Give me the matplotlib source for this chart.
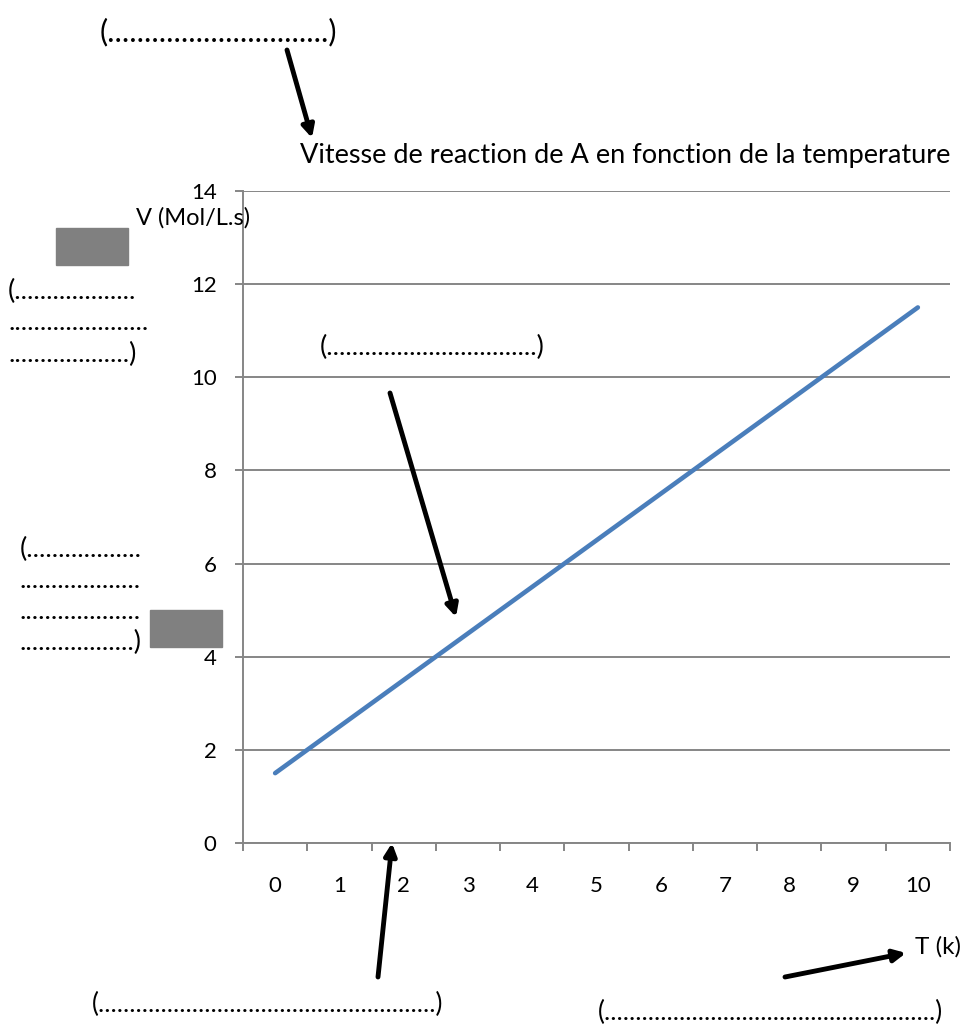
import matplotlib.pyplot as plt
import matplotlib.patches as mpatches

plt.rcParams['font.family'] = ['Lato', 'DejaVu Sans']

# donnees
temperature = [0, 1, 2, 3, 4, 5, 6, 7, 8, 9, 10]
vitesse = [1.5, 2.5, 3.5, 4.5, 5.5, 6.5, 7.5, 8.5, 9.5, 10.5, 11.5]
y_ticks = [0, 2, 4, 6, 8, 10, 12, 14]

titre = "Vitesse de reaction de A en fonction de la temperature"
label_y = "V (Mol/L.s)"
label_x = "T (k)"

W, H = 970, 1025
fig = plt.figure(figsize=(W / 100, H / 100), dpi=100)


def px(x, y):
    return (x / W, 1 - y / H)


ax = fig.add_axes([243 / W, 1 - 843 / H, (950 - 243) / W, (843 - 191) / H])

ax.plot(temperature, vitesse, color='#4a7ebb', lw=3.3, solid_capstyle='round', zorder=3)

ax.set_xlim(-0.5, 10.5)
ax.set_ylim(0, 14)
ax.set_yticks(y_ticks)
ax.set_xticks(temperature)
ax.set_xticklabels([str(t) for t in temperature])
ax.set_xticks([t - 0.5 for t in temperature] + [10.5], minor=True)

grid_c = '#868686'
ax.grid(axis='y', color=grid_c, lw=1.4)
ax.set_axisbelow(True)
for s in ['top', 'right']:
    ax.spines[s].set_visible(False)
for s in ['left', 'bottom']:
    ax.spines[s].set_color(grid_c)
    ax.spines[s].set_linewidth(1.4)

ax.tick_params(axis='x', which='major', length=0, pad=24, labelsize=16)
ax.tick_params(axis='x', which='minor', length=6, width=1.4, color=grid_c)
ax.tick_params(axis='y', length=6, width=1.4, color=grid_c, pad=13, labelsize=16)

# textes
fig.text(*px(300, 155), titre, fontsize=19.5, va='center', ha='left')
fig.text(*px(136, 218), label_y, fontsize=17, va='center', ha='left')
fig.text(*px(915, 947), label_x, fontsize=17.5, va='center', ha='left')

# zones a completer
fig.text(*px(100, 32), "(" + "." * 30 + ")", fontsize=22, va='center', ha='left')
fig.text(*px(320, 347), "(" + "." * 33 + ")", fontsize=19.5, va='center', ha='left')
fig.text(*px(8, 323), "(" + "." * 19 + "\n" + "." * 22 + "\n" + "." * 19 + ")",
         fontsize=19.5, va='center', ha='left', linespacing=1.33)
fig.text(*px(20, 596), "(" + "." * 18 + "\n" + "." * 19 + "\n" + "." * 19 + "\n" + "." * 18 + ")",
         fontsize=19.5, va='center', ha='left', linespacing=1.3)
fig.text(*px(92, 1004), "(" + "." * 54 + ")", fontsize=19, va='center', ha='left')
fig.text(*px(598, 1012), "(" + "." * 53 + ")", fontsize=19, va='center', ha='left')

# rectangles gris
for x0, y0 in [(56, 228), (150, 610)]:
    fig.patches.append(mpatches.Rectangle(px(x0, y0 + 37), 72 / W, 37 / H,
                                          transform=fig.transFigure, color='#808080'))

# fleches
fleches = [((287, 50), (312, 138)),
           ((390, 393), (456, 617)),
           ((378, 977), (392, 843)),
           ((785, 977), (906, 953))]
for debut, fin in fleches:
    ax.annotate('', xy=px(*fin), xytext=px(*debut), xycoords='figure fraction',
                textcoords='figure fraction',
                arrowprops=dict(arrowstyle='-|>', lw=3.5, color='black',
                                mutation_scale=18, shrinkA=0, shrinkB=0),
                annotation_clip=False)

fig.savefig('out.png', dpi=100)
